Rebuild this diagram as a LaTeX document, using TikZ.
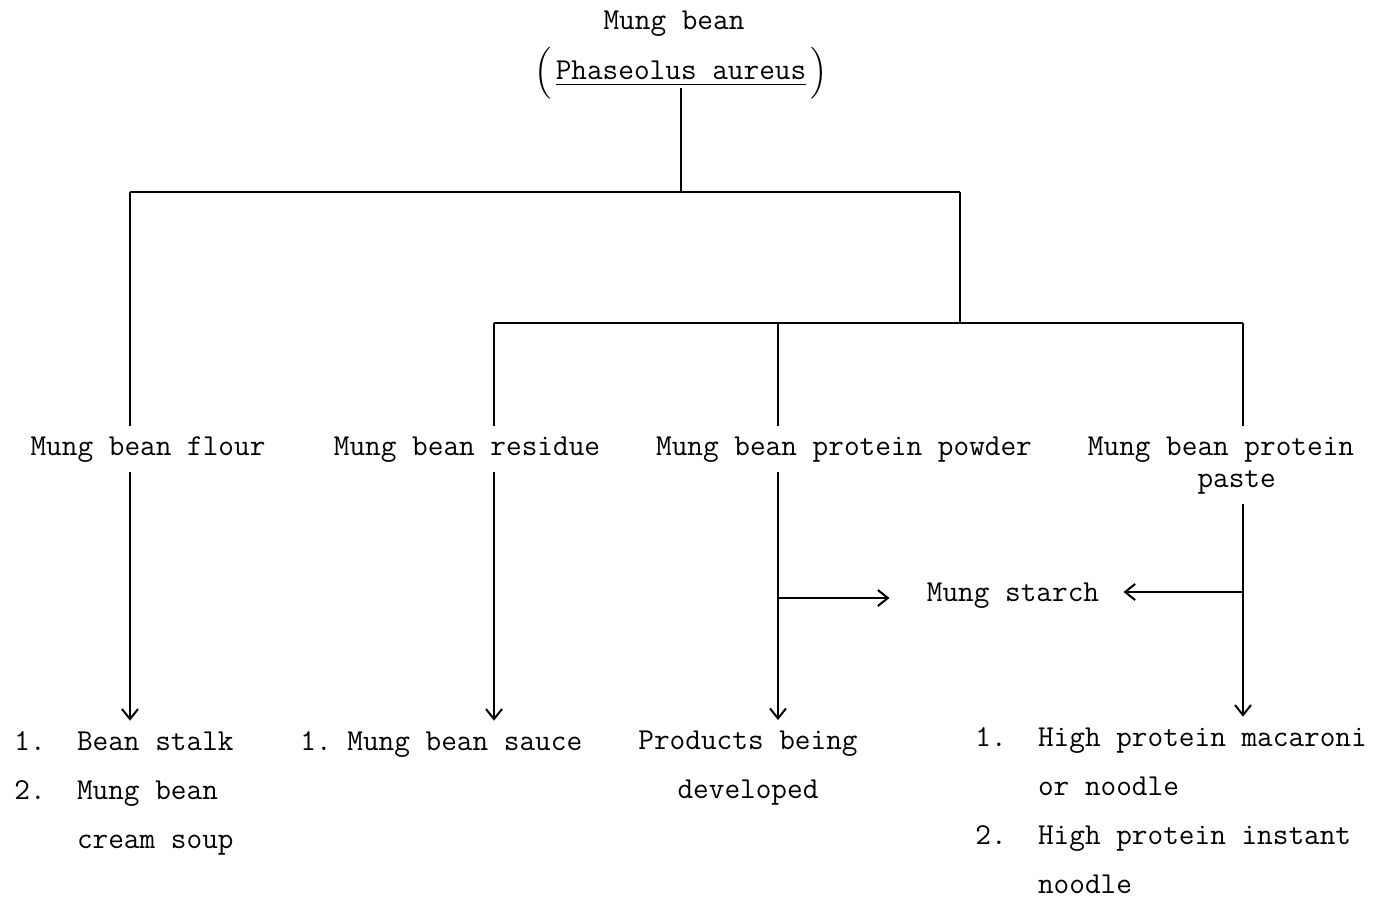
\documentclass[tikz,border=0pt]{standalone}
\usepackage{fontspec}
\usepackage{amsmath}
\usepackage{tikz}
\usetikzlibrary{arrows.meta,calc}

\begin{document}
\begin{tikzpicture}[x=0.5pt,y=-0.5pt]
        \tikzstyle{every node}=[font=\fontsize{15.2}{16}\selectfont\ttfamily,inner sep=0pt]
        \tikzstyle{prod}=[inner sep=5pt,anchor=base]
        \tikzstyle{lst}=[align=left,inner sep=0pt,anchor=base west,font=\fontsize{15.2}{24.5}\selectfont\ttfamily]
        \tikzstyle{arr}=[-{Straight Barb[length=5pt,width=8pt]},line width=1pt,shorten >=5pt]
        \useasboundingbox (0,0) rectangle (1392,899);

        %%% Top
        \node[anchor=base] (bean) at (674,30) {Mung bean};
        \node[anchor=base] (species) at (681,80) {$\Bigl($\kern2pt\underline{Phaseolus aureus}\kern2pt$\Bigr)$};

        \coordinate (split) at (681,192);
        \coordinate (fl) at (130,192);
        \coordinate (fr) at (960,192);
        \coordinate (sub) at (960,323);
        \coordinate (rl) at (494,323);
        \coordinate (rm) at (778,323);
        \coordinate (rr) at (1243,323);

        %%% Products (base = last line)
        \node[prod] (flour) at (148,455) {Mung bean flour};
        \node[prod] (residue) at (467,455) {Mung bean residue};
        \node[prod] (powder) at (844,455) {Mung bean protein powder};
        \node[prod,align=center] (paste) at (1221,487) {Mung bean protein\\\hphantom{xx}paste};
        \node[prod] (starch) at (1013,601) {Mung starch};

        \coordinate (sl) at (778,598);
        \coordinate (sr) at (1243,592);

        %%% Uses
        \node[lst] (flourprod) at (14,848) {1.~~Bean stalk\\2.~~Mung bean\\\hphantom{2.~~}cream soup};
        \node[lst] (residueprod) at (300,750) {1.~Mung bean sauce};
        \node[lst,align=center,anchor=base] (powderprod) at (748,798) {Products being\\developed};
        \node[lst] (pasteprod) at (975,893) {1.~~High protein macaroni\\\hphantom{1.~~}or noodle\\2.~~High protein instant\\\hphantom{2.~~}noodle};

        \draw[line width=1pt] ([yshift=-4pt]species.base) -- (split);
        \draw[line width=1pt] (fl) -- (fr);
        \draw[line width=1pt] (fl) -- (fl |- flour.north);
        \draw[line width=1pt] (fr) -- (sub);
        \draw[line width=1pt] (rl) -- (rr);
        \draw[line width=1pt] (rl) -- (rl |- residue.north);
        \draw[line width=1pt] (rm) -- (rm |- powder.north);
        \draw[line width=1pt] (rr) -- (rr |- paste.north);

        \draw[arr] (fl |- flour.south) -- (fl |- flourprod.north);
        \draw[arr] (rl |- residue.south) -- (rl |- residueprod.north);
        \draw[arr] (rm |- powder.south) -- (rm |- powderprod.north);
        \draw[arr] (rr |- paste.south) -- (rr |- pasteprod.north);
        \draw[arr,shorten >=13.5pt] (sl) -- (starch.west |- sl);
        \draw[arr,shorten >=7pt] (sr) -- (starch.east |- sr);
\end{tikzpicture}
\end{document}
